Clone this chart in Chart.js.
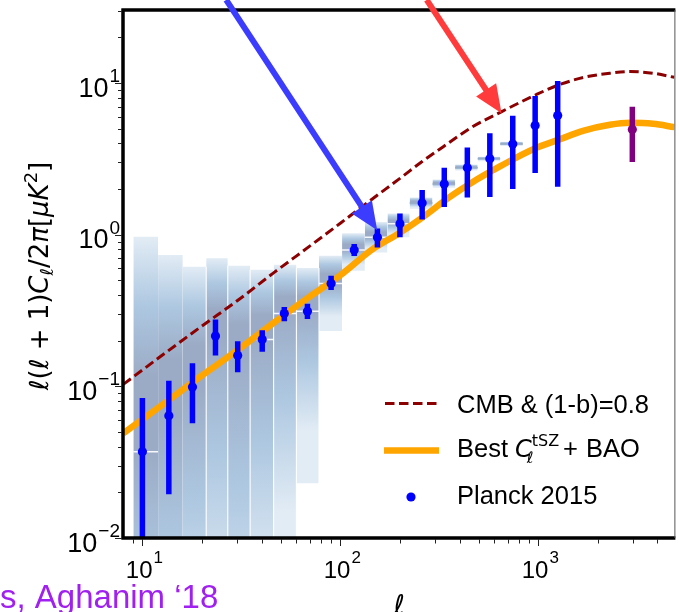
<!DOCTYPE html>
<html>
<head>
<meta charset="utf-8">
<script src="https://cdn.jsdelivr.net/npm/chart.js@4.4.1/dist/chart.umd.min.js"></script>
<style>
    html, body { margin: 0; padding: 0; background: #fff; overflow: hidden; }
    #wrap { width: 679px; height: 612px; }
</style>
</head>
<body>
<div id="wrap"><canvas id="chart" width="679" height="612"></canvas></div>
<script>
// Planck 2015 tSZ band powers
var ellPlanck  = [10, 13.6, 17.9, 23.4, 30.3, 40.3, 52.1, 68.2, 89.8, 117.5, 153.9, 200, 259, 335, 438, 569, 743, 964, 1253];
var clPlanck   = [0.037, 0.064, 0.099, 0.215, 0.160, 0.204, 0.302, 0.313, 0.477, 0.792, 0.96, 1.18, 1.62, 2.16, 2.76, 3.17, 3.96, 5.25, 6.11];
var clPlanckLo = [0.005, 0.0194, 0.0572, 0.160, 0.124, 0.169, 0.269, 0.278, 0.431, 0.723, 0.824, 0.96, 1.26, 1.52, 1.76, 1.77, 2.0, 2.55, 2.07];
var clPlanckHi = [0.0837, 0.109, 0.142, 0.276, 0.198, 0.234, 0.334, 0.35, 0.536, 0.868, 1.10, 1.38, 1.97, 2.76, 3.76, 4.66, 6.08, 8.2, 10.3];

// high-ell point (purple)
var ellHigh = [2985];
var clHigh = [4.94];
var clHighLo = [3.02];
var clHighHi = [6.97];

// shaded posterior boxes per bin
var binLo     = [9, 12, 16, 21, 27, 35, 46, 60, 78, 102, 133, 173, 224, 292, 380, 494, 642];
var binHi     = [12, 16, 21, 27, 35, 46, 60, 78, 102, 133, 173, 224, 292, 380, 494, 642, 835];
var boxTop    = [0.97, 0.735, 0.614, 0.70, 0.624, 0.587, 0.633, 0.602, 0.727, 1.02, 1.21, 1.38, 1.76, 2.31, 2.9, 3.27, 4.1];
var boxBottom = [0.0001, 0.0001, 0.0003, 0.0005, 0.0002, 0.001, 0.004, 0.023, 0.232, 0.578, 0.764, 0.96, 1.48, 2.04, 2.65, 3.05, 3.85];
var showMedian = [1, 0, 0, 0, 0, 1, 1, 1, 1, 1, 1, 1, 1, 1, 1, 1, 1];

// model curves
var ellModel = [8, 12, 20, 30, 46, 70, 100, 145, 200, 260, 350, 460, 650, 960, 1250, 1700, 2300, 2900, 3800, 4870];
var clCMB    = [0.103, 0.153, 0.25, 0.365, 0.56, 0.84, 1.19, 1.72, 2.35, 3.05, 4.0, 5.1, 6.46, 8.3, 9.65, 10.9, 11.6, 11.9, 11.6, 10.9];
var clBest   = [0.049, 0.072, 0.118, 0.172, 0.262, 0.39, 0.54, 0.80, 1.03, 1.30, 1.74, 2.2, 2.85, 3.70, 4.20, 4.85, 5.30, 5.46, 5.38, 5.12];

// axes
var xMin = 7.98, xMax = 4870, yMin = 0.01, yMax = 30.3;
var xTickVals = [10, 100, 1000];
var xTickExp = ['1', '2', '3'];
var yTickVals = [0.01, 0.1, 1, 10];
var yTickExp = ['\u22122', '\u22121', '0', '1'];

// arrows [ell, value] start -> tip
var blueArrow = [[26.5, 35.3], [153.5, 1.07]];
var redArrow = [[273, 35.3], [652, 6.31]];

var LIGHT = 'rgb(226,236,245)', MID = 'rgb(174,200,225)', DARK = 'rgb(155,171,198)';

function pts(xs, ys) {
    var out = [];
    for (var i = 0; i < xs.length; i++) out.push({ x: xs[i], y: ys[i] });
    return out;
}

function boxGradient(i) {
    return function (context) {
        var chart = context.chart;
        if (!chart.chartArea) return MID;
        var ys = chart.scales.y;
        var yt = ys.getPixelForValue(boxTop[i]);
        var ym = ys.getPixelForValue(clPlanck[i]);
        var yb = ys.getPixelForValue(boxBottom[i]);
        var fm = Math.min(Math.max((ym - yt) / (yb - yt), 0.02), 0.98);
        var g = chart.ctx.createLinearGradient(0, yt, 0, yb);
        g.addColorStop(0, LIGHT);
        g.addColorStop(fm * 0.32, MID);
        g.addColorStop(fm * 0.65, DARK);
        g.addColorStop(fm, DARK);
        g.addColorStop(fm + (1 - fm) * 0.3, MID);
        g.addColorStop(fm + (1 - fm) * 0.7, LIGHT);
        g.addColorStop(1, LIGHT);
        return g;
    };
}

var datasets = [];

// boxes
for (let i = 0; i < binLo.length; i++) {
    datasets.push({
        data: [{ x: binLo[i], y: boxTop[i] }, { x: binHi[i], y: boxTop[i] }],
        borderWidth: 0,
        pointRadius: 0,
        fill: { value: boxBottom[i] },
        backgroundColor: boxGradient(i),
        order: 20
    });
}

// thin white separators between the wide low-ell boxes
var seps = [];
for (let i = 2; i < 8; i++) {
    var h = Math.min(boxTop[i], boxTop[i + 1]);
    seps.push({ x: binHi[i], y: yMin * 0.5 }, { x: binHi[i], y: h }, { x: binHi[i], y: null });
}
datasets.push({ data: seps, borderColor: 'rgba(255,255,255,0.85)', borderWidth: 1.2, pointRadius: 0, spanGaps: false, fill: false, order: 16 });

// median lines in the boxes
var medWhite = [], medGrey = [];
for (let i = 0; i < binLo.length; i++) {
    if (!showMedian[i]) continue;
    var target = i < 12 ? medWhite : medGrey;
    target.push({ x: binLo[i], y: clPlanck[i] }, { x: binHi[i], y: clPlanck[i] }, { x: binHi[i], y: null });
}
datasets.push({ data: medWhite, borderColor: 'rgba(255,255,255,0.9)', borderWidth: 1.5, pointRadius: 0, spanGaps: false, fill: false, order: 15 });
datasets.push({ data: medGrey, borderColor: 'rgb(150,172,198)', borderWidth: 1.5, pointRadius: 0, spanGaps: false, fill: false, order: 15 });

// curves
datasets.push({
    data: pts(ellModel, clCMB),
    borderColor: '#8b0000', borderWidth: 3, borderDash: [9.5, 4.5],
    pointRadius: 0, fill: false, cubicInterpolationMode: 'monotone', order: 10
});
datasets.push({
    data: pts(ellModel, clBest),
    borderColor: '#ffa500', borderWidth: 6.5,
    pointRadius: 0, fill: false, cubicInterpolationMode: 'monotone', order: 9
});

// error bars
var errBlue = [];
for (let i = 0; i < ellPlanck.length; i++) {
    errBlue.push({ x: ellPlanck[i], y: clPlanckLo[i] }, { x: ellPlanck[i], y: clPlanckHi[i] }, { x: ellPlanck[i], y: null });
}
var errPurple = [];
for (let i = 0; i < ellHigh.length; i++) {
    errPurple.push({ x: ellHigh[i], y: clHighLo[i] }, { x: ellHigh[i], y: clHighHi[i] }, { x: ellHigh[i], y: null });
}
datasets.push({ data: errBlue, borderColor: '#0000ff', borderWidth: 5.5, borderCapStyle: 'butt', pointRadius: 0, spanGaps: false, fill: false, clip: 0, order: 6 });
datasets.push({ data: errPurple, borderColor: '#800080', borderWidth: 5.5, borderCapStyle: 'butt', pointRadius: 0, spanGaps: false, fill: false, clip: 0, order: 6 });

// points
datasets.push({ data: pts(ellPlanck, clPlanck), showLine: false, pointRadius: 4.6, pointBackgroundColor: '#0000ff', pointBorderWidth: 0, order: 2 });
datasets.push({ data: pts(ellHigh, clHigh), showLine: false, pointRadius: 4.6, pointBackgroundColor: '#800080', pointBorderWidth: 0, order: 2 });

function drawPow(ctx, exp, x, baseline, baseFont, expFont, expRise, align) {
    ctx.font = baseFont;
    var wB = ctx.measureText('10').width;
    ctx.font = expFont;
    var wE = ctx.measureText(exp).width;
    var start = align === 'right' ? x - wB - wE - 1 : x - (wB + wE + 1) / 2;
    ctx.textAlign = 'left';
    ctx.textBaseline = 'alphabetic';
    ctx.font = baseFont;
    ctx.fillText('10', start, baseline);
    ctx.font = expFont;
    ctx.fillText(exp, start + wB + 1, baseline - expRise);
}

function drawSegs(ctx, segs, x, baseline) {
    var cx = x;
    for (var i = 0; i < segs.length; i++) {
        ctx.font = segs[i].f;
        ctx.fillText(segs[i].t, cx, baseline + (segs[i].dy || 0));
        cx += ctx.measureText(segs[i].t).width;
    }
    return cx;
}

function segsWidth(ctx, segs) {
    var w = 0;
    for (var i = 0; i < segs.length; i++) {
        ctx.font = segs[i].f;
        w += ctx.measureText(segs[i].t).width;
    }
    return w;
}

function drawArrow(ctx, x0, y0, x1, y1, color, width, headLen, headW) {
    var dx = x1 - x0, dy = y1 - y0;
    var len = Math.sqrt(dx * dx + dy * dy);
    var ux = dx / len, uy = dy / len;
    var bx = x1 - ux * headLen, by = y1 - uy * headLen;
    ctx.strokeStyle = color;
    ctx.fillStyle = color;
    ctx.lineWidth = width;
    ctx.lineCap = 'butt';
    ctx.setLineDash([]);
    ctx.beginPath();
    ctx.moveTo(x0, y0);
    ctx.lineTo(bx + ux * 2, by + uy * 2);
    ctx.stroke();
    ctx.beginPath();
    ctx.moveTo(x1, y1);
    ctx.lineTo(bx - uy * headW / 2, by + ux * headW / 2);
    ctx.lineTo(bx + uy * headW / 2, by - ux * headW / 2);
    ctx.closePath();
    ctx.fill();
}

var decor = {
    id: 'decor',
    afterDraw: function (chart) {
        var ctx = chart.ctx;
        var a = chart.chartArea;
        var xs = chart.scales.x, ys = chart.scales.y;
        ctx.save();

        // minor / major ticks
        ctx.strokeStyle = '#222';
        ctx.lineWidth = 1;
        for (var k = 0; k <= 3; k++) {
            for (var m = 1; m <= 9; m++) {
                var v = m * Math.pow(10, k);
                if (v < xMin || v > xMax) continue;
                var px = Math.round(xs.getPixelForValue(v)) + 0.5;
                if (px < a.left + 3) continue;
                ctx.beginPath();
                ctx.moveTo(px, a.bottom + 1.5);
                ctx.lineTo(px, a.bottom + (m === 1 ? 8 : 5.5));
                ctx.stroke();
            }
        }
        for (var k2 = -2; k2 <= 1; k2++) {
            for (var m2 = 1; m2 <= 9; m2++) {
                var v2 = m2 * Math.pow(10, k2);
                if (v2 < yMin || v2 > yMax) continue;
                var py = Math.round(ys.getPixelForValue(v2)) + 0.5;
                ctx.beginPath();
                ctx.moveTo(a.left - 1.5, py);
                ctx.lineTo(a.left - (m2 === 1 ? 8 : 5), py);
                ctx.stroke();
            }
        }

        // spines
        ctx.strokeStyle = '#000';
        ctx.lineWidth = 3.5;
        ctx.beginPath();
        ctx.moveTo(a.left, a.top - 1.5);
        ctx.lineTo(a.left, a.bottom + 1.5);
        ctx.moveTo(a.left - 1.5, a.bottom);
        ctx.lineTo(a.right + 1, a.bottom);
        ctx.moveTo(a.left - 1.5, a.top);
        ctx.lineTo(a.right + 1, a.top);
        ctx.stroke();
        ctx.strokeStyle = '#555';
        ctx.lineWidth = 1;
        ctx.beginPath();
        ctx.moveTo(a.right + 0.5, a.top);
        ctx.lineTo(a.right + 0.5, a.bottom);
        ctx.stroke();

        // tick labels
        ctx.fillStyle = '#000';
        for (var i = 0; i < yTickVals.length; i++) {
            var ty = ys.getPixelForValue(yTickVals[i]);
            drawPow(ctx, yTickExp[i], 120, ty + 13.5, '27px "Liberation Sans"', '19px "Liberation Sans"', 14.5, 'right');
        }
        for (var j = 0; j < xTickVals.length; j++) {
            var tx = xs.getPixelForValue(xTickVals[j]);
            drawPow(ctx, xTickExp[j], tx + 2, 578, '24px "Liberation Sans"', '17px "Liberation Sans"', 15, 'center');
        }

        // axis titles
        var it = 'italic 26px "DejaVu Sans"', rg = '26px "DejaVu Sans"';
        var yTitle = [
            { t: '\u2113', f: it }, { t: '(', f: rg }, { t: '\u2113', f: it }, { t: ' + ', f: rg },
            { t: '1)', f: rg }, { t: 'C', f: it }, { t: '\u2113', f: 'italic 18px "DejaVu Sans"', dy: 5 },
            { t: '/2', f: rg }, { t: '\u03c0', f: it }, { t: '[', f: rg }, { t: '\u03bcK', f: it },
            { t: '2', f: '18px "DejaVu Sans"', dy: -11 }, { t: ']', f: rg }
        ];
        ctx.save();
        ctx.translate(48, 276);
        ctx.rotate(-Math.PI / 2);
        ctx.textAlign = 'left';
        ctx.textBaseline = 'alphabetic';
        drawSegs(ctx, yTitle, -segsWidth(ctx, yTitle) / 2, 0);
        ctx.restore();

        ctx.font = 'italic 27px "DejaVu Sans"';
        ctx.textAlign = 'center';
        ctx.fillText('\u2113', 399, 614);

        // legend
        ctx.textAlign = 'left';
        ctx.strokeStyle = '#8b0000';
        ctx.lineWidth = 3;
        ctx.setLineDash([9.5, 4.5]);
        ctx.beginPath();
        ctx.moveTo(385, 403.5);
        ctx.lineTo(438, 403.5);
        ctx.stroke();
        ctx.setLineDash([]);
        ctx.strokeStyle = '#ffa500';
        ctx.lineWidth = 6.5;
        ctx.beginPath();
        ctx.moveTo(384, 450.5);
        ctx.lineTo(439, 450.5);
        ctx.stroke();
        ctx.fillStyle = '#0000ff';
        ctx.beginPath();
        ctx.arc(411, 497, 4.6, 0, Math.PI * 2);
        ctx.fill();

        ctx.fillStyle = '#000';
        var lf = '25.5px "Liberation Sans"';
        ctx.font = lf;
        ctx.fillText('CMB & (1-b)=0.8', 457, 413.3);
        ctx.fillText('Best', 457, 457);
        ctx.font = 'italic 24px "DejaVu Sans"';
        ctx.fillText('C', 515, 457);
        var cx = 515 + ctx.measureText('C').width;
        ctx.font = 'italic 16px "DejaVu Sans"';
        ctx.fillText('\u2113', cx - 5, 463);
        ctx.font = '16px "DejaVu Sans"';
        ctx.fillText('tSZ', cx, 446);
        ctx.font = lf;
        ctx.fillText('+', 563, 457);
        ctx.fillText('BAO', 586, 457);
        ctx.fillText('Planck 2015', 457, 504);

        // citation fragment
        ctx.fillStyle = '#a020f0';
        ctx.font = '33px "Liberation Sans"';
        ctx.fillText('s, Aghanim \u201818', 0, 608);

        // arrows
        drawArrow(ctx, xs.getPixelForValue(blueArrow[0][0]), ys.getPixelForValue(blueArrow[0][1]),
            xs.getPixelForValue(blueArrow[1][0]), ys.getPixelForValue(blueArrow[1][1]), '#3c3cff', 6, 28, 24);
        drawArrow(ctx, xs.getPixelForValue(redArrow[0][0]), ys.getPixelForValue(redArrow[0][1]),
            xs.getPixelForValue(redArrow[1][0]), ys.getPixelForValue(redArrow[1][1]), '#ff3b3b', 6, 28, 24);

        ctx.restore();
    }
};

var ctx = document.getElementById('chart').getContext('2d');
var chart = new Chart(ctx, {
    type: 'line',
    data: { datasets: datasets },
    options: {
        responsive: false,
        maintainAspectRatio: false,
        animation: false,
        events: [],
        layout: { padding: { top: 10, right: 1, left: 0, bottom: 0 } },
        plugins: { legend: { display: false }, tooltip: { enabled: false } },
        scales: {
            x: {
                type: 'logarithmic', min: xMin, max: xMax,
                grid: { display: false }, border: { display: false }, ticks: { display: false },
                afterFit: function (s) { s.height = 74; }
            },
            y: {
                type: 'logarithmic', min: yMin, max: yMax,
                grid: { display: false }, border: { display: false }, ticks: { display: false },
                afterFit: function (s) { s.width = 123; }
            }
        }
    },
    plugins: [decor]
});
</script>
</body>
</html>
